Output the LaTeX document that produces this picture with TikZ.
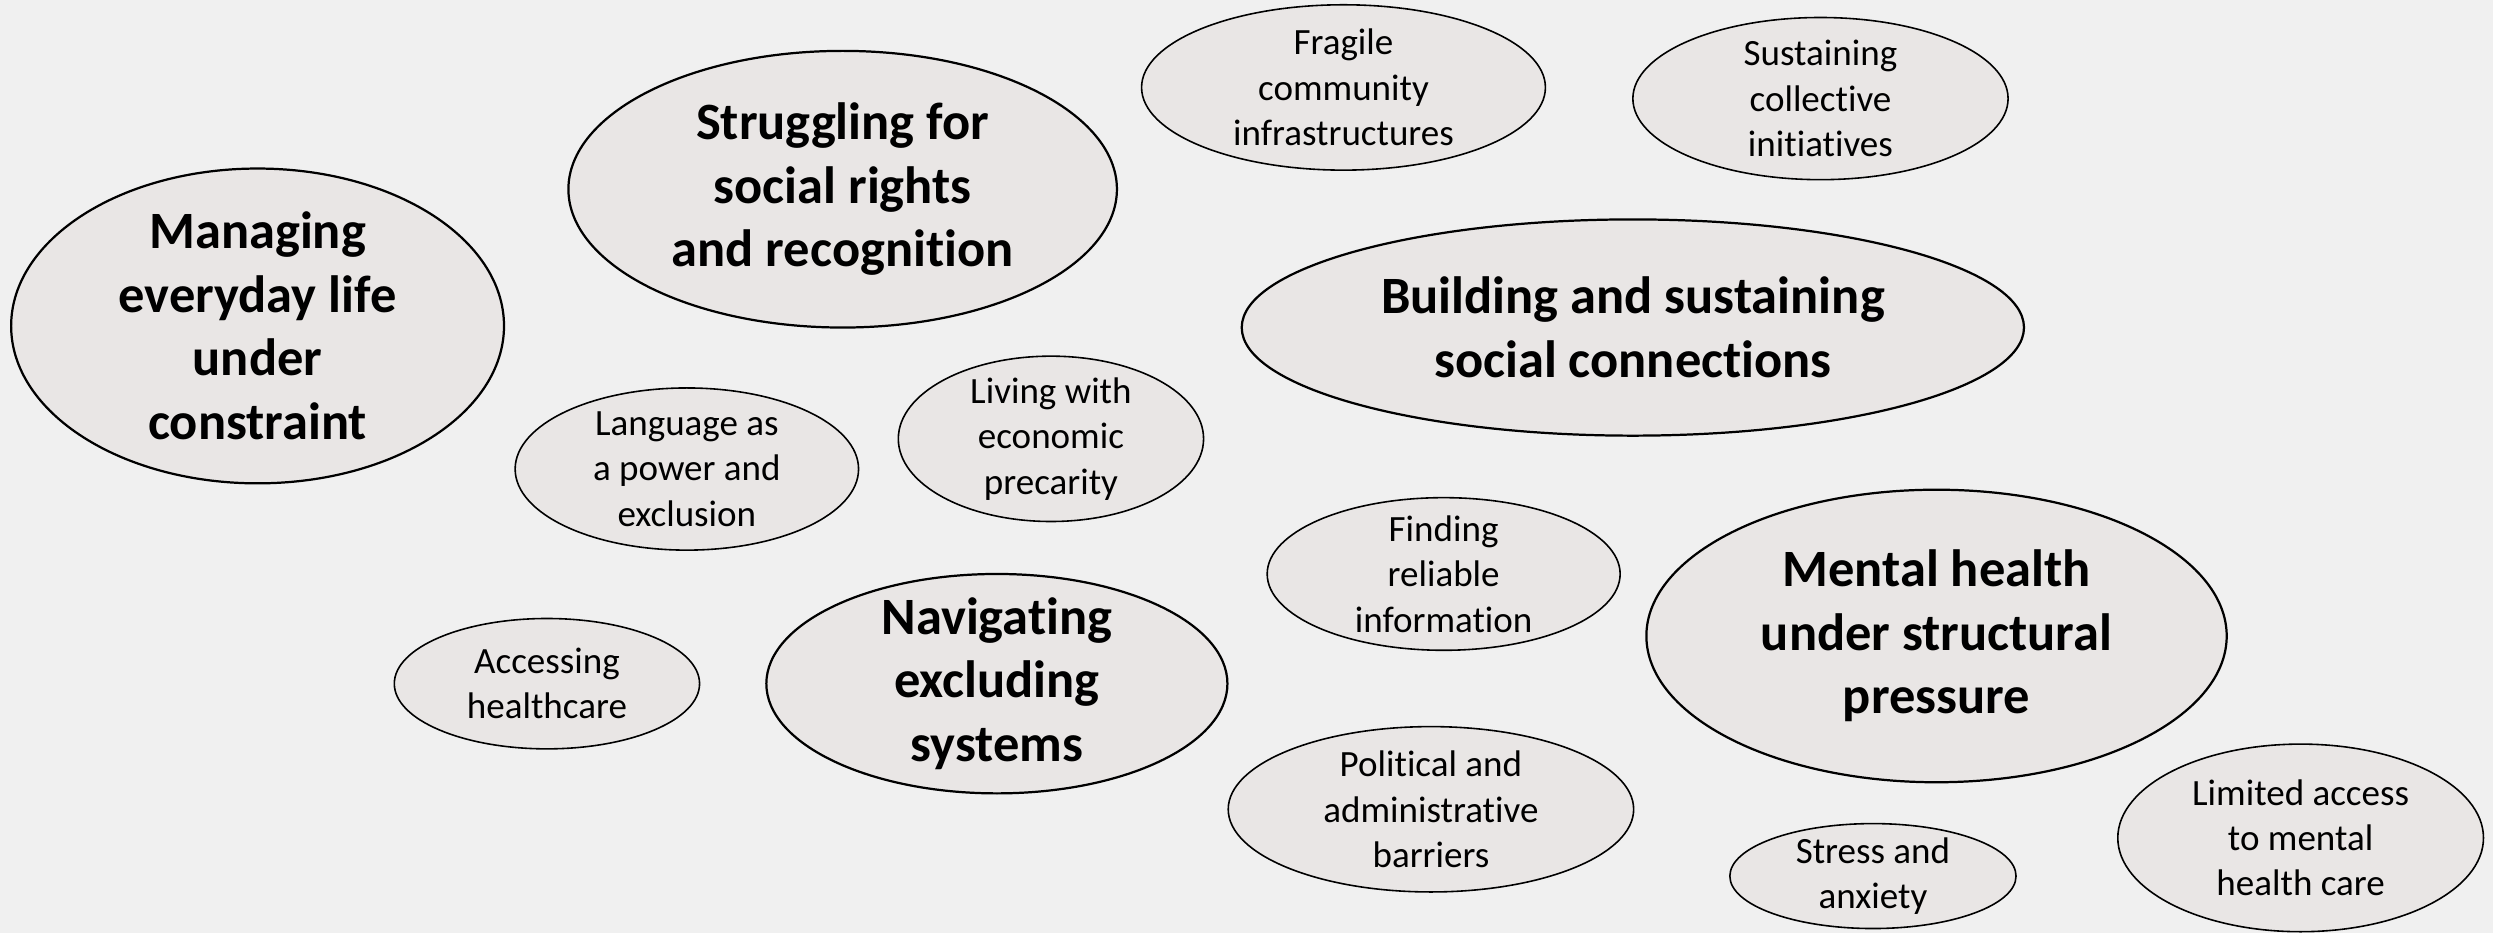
\documentclass[tikz,border=0pt]{standalone}
\usepackage{fontspec}
\setmainfont{Carlito}[Ligatures=NoCommon]
\usetikzlibrary{shapes.geometric}
\definecolor{paper}{HTML}{F0F0F0}
\definecolor{bubblefill}{HTML}{E9E6E5}
\def\dtheme{\node[theme]}
\def\dcode{\node[code]}

\begin{document}
\begin{tikzpicture}[x=1pt,y=-1pt,
    bubble/.style={ellipse,draw=black,fill=bubblefill,inner sep=-120pt,outer sep=0pt,align=center},
    theme/.style={bubble,line width=1.4pt,font=\fontsize{33}{40}\selectfont\bfseries},
    code/.style={bubble,line width=1pt,font=\fontsize{23.3}{28.5}\selectfont}]
                \fill[paper] (0,0) rectangle (1568,587);
                % main themes
                \dtheme[minimum width=310,minimum height=198] (everyday)   at ( 162,205) {Managing\\everyday life\\under\\constraint};
                \dtheme[minimum width=345,minimum height=174] (rights)     at ( 530,119) {Struggling for\\social rights\\and recognition};
                \dtheme[minimum width=492,minimum height=136] (connection) at (1027,206) {Building and sustaining\\social connections};
                \dtheme[minimum width=290,minimum height=138] (systems)    at ( 627,430) {Navigating\\excluding\\systems};
                \dtheme[minimum width=365,minimum height=184] (mental)     at (1218,400) {Mental health\\under structural\\pressure};
                % codes
                \dcode[minimum width=254,minimum height=104] (fragile)     at ( 845, 55) {Fragile\\community\\infrastructures};
                \dcode[minimum width=236,minimum height=102] (collective)  at (1145, 62) {Sustaining\\collective\\initiatives};
                \dcode[minimum width=216,minimum height=102] (language)    at ( 432,295) {Language as\\a power and\\exclusion};
                \dcode[minimum width=192,minimum height=104] (precarity)   at ( 661,276) {Living with\\economic\\precarity};
                \dcode[minimum width=222,minimum height= 96] (information) at ( 908,361) {Finding\\reliable\\information};
                \dcode[minimum width=192,minimum height= 82] (healthcare)  at ( 344,430) {Accessing\\healthcare};
                \dcode[minimum width=255,minimum height=104] (barriers)    at ( 900,509) {Political and\\administrative\\barriers};
                \dcode[minimum width=180,minimum height= 66] (stress)      at (1178,551) {Stress and\\anxiety};
                \dcode[minimum width=230,minimum height=118] (access)      at (1447,527) {Limited access\\to mental\\health care};
            \end{tikzpicture}
\end{document}
